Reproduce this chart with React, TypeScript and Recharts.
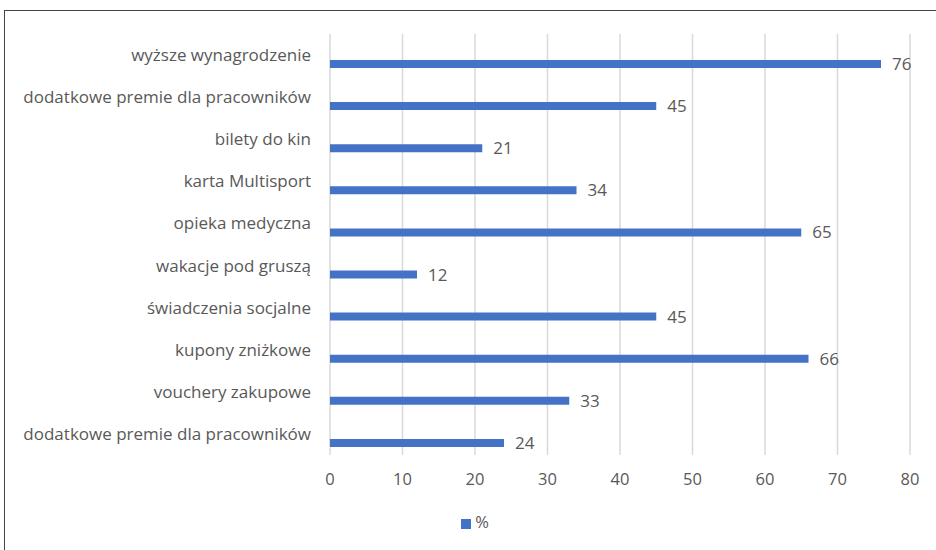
import { Bar, BarChart, CartesianGrid, LabelList, Legend, XAxis, YAxis } from "recharts";

// Benefit categories, top to bottom as shown
const CATEGORIES = [
  "wyższe wynagrodzenie",
  "dodatkowe premie dla pracowników",
  "bilety do kin",
  "karta Multisport",
  "opieka medyczna",
  "wakacje pod gruszą",
  "świadczenia socjalne",
  "kupony zniżkowe",
  "vouchery zakupowe",
  "dodatkowe premie dla pracowników",
];
const PERCENT = [76, 45, 21, 34, 65, 12, 45, 66, 33, 24];
const X_TICKS = [0, 10, 20, 30, 40, 50, 60, 70, 80];

const BAR_COLOR = "#4472C4";
const TEXT_COLOR = "#595959";
const GRID_COLOR = "#d9d9d9";
const FONT = "'Open Sans', 'Noto Sans', sans-serif";

const data = CATEGORIES.map((name, i) => ({ name, value: PERCENT[i] }));

export default function App() {
  return (
    <div style={{ position: "relative", width: 936, height: 550, background: "#fff", fontFamily: FONT }}>
      <style>{"body{margin:0}"}</style>
      {/* frame of the original screenshot */}
      <div
        style={{
          position: "absolute",
          left: 4,
          top: 10,
          width: 940,
          height: 560,
          borderTop: "1.5px solid #444",
          borderLeft: "1.5px solid #444",
        }}
      />
      <BarChart
        width={936}
        height={550}
        data={data}
        layout="vertical"
        margin={{ top: 34, right: 26, bottom: 55, left: 0 }}
        barSize={8}
        barGap={10}
      >
        <CartesianGrid horizontal={false} stroke={GRID_COLOR} strokeWidth={1.5} />
        <XAxis
          type="number"
          domain={[0, 80]}
          ticks={X_TICKS}
          axisLine={false}
          tickLine={false}
          tickSize={0}
          tickMargin={18}
          height={40}
          tick={{ fontSize: 16.5, fill: TEXT_COLOR, fontFamily: FONT }}
        />
        <YAxis
          type="category"
          dataKey="name"
          width={330}
          axisLine={false}
          tickLine={false}
          tickSize={0}
          tickMargin={19}
          interval={0}
          tick={{ fontSize: 17, fill: TEXT_COLOR, fontFamily: FONT }}
        />
        <Legend
          verticalAlign="middle"
          align="center"
          iconType="square"
          iconSize={10}
          wrapperStyle={{ top: 510, left: 0, width: 960, fontSize: 16.5, color: TEXT_COLOR }}
          formatter={(v: string) => <span style={{ color: TEXT_COLOR }}>{v}</span>}
        />
        {/* empty slot so the bar sits below the category label, as in the source */}
        <Bar dataKey="spacer" fill="none" legendType="none" isAnimationActive={false} />
        <Bar dataKey="value" name="%" fill={BAR_COLOR} isAnimationActive={false}>
          <LabelList
            dataKey="value"
            position="right"
            offset={11}
            style={{ fontSize: 17, fill: TEXT_COLOR, fontFamily: FONT }}
          />
        </Bar>
      </BarChart>
    </div>
  );
}
